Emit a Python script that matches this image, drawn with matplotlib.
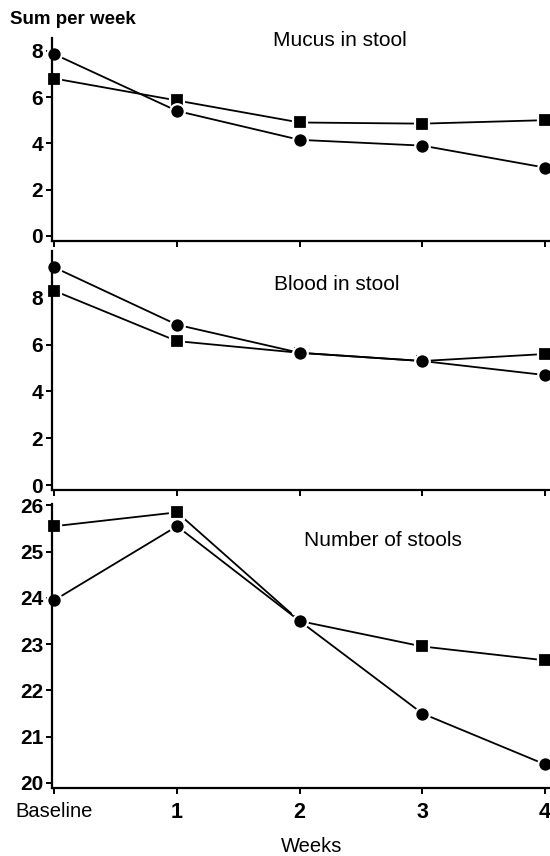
import matplotlib
matplotlib.use("Agg")
import matplotlib.pyplot as plt

plt.rcParams['font.family'] = ['Liberation Sans', 'DejaVu Sans']

weeks = [0, 1, 2, 3, 4]
week_labels = ['Baseline', '1', '2', '3', '4']

mucus_circle = [7.85, 5.4, 4.15, 3.9, 2.95]
mucus_square = [6.8, 5.85, 4.9, 4.85, 5.0]

blood_circle = [9.3, 6.85, 5.65, 5.3, 4.7]
blood_square = [8.3, 6.15, 5.65, 5.3, 5.6]

stools_circle = [23.95, 25.55, 23.5, 21.5, 20.4]
stools_square = [25.55, 25.85, 23.5, 22.95, 22.65]

W, H = 550, 856
fig = plt.figure(figsize=(W / 100, H / 100), dpi=100)


def px_axes(top, bottom, left=51.5, right=550):
    return fig.add_axes([left / W, 1 - bottom / H, (right - left) / W, (bottom - top) / H])


panels = [
    (38, 241, (-0.22, 8.55), [0, 2, 4, 6, 8], mucus_circle, mucus_square,
     'Mucus in stool', 340, 41),
    (251, 490, (-0.21, 10.0), [0, 2, 4, 6, 8], blood_circle, blood_square,
     'Blood in stool', 337, 285),
    (504, 788, (19.89, 26.03), [20, 21, 22, 23, 24, 25, 26], stools_circle, stools_square,
     'Number of stools', 383, 541),
]

axes = []
for top, bottom, ylim, yticks, circ, sq, title, tx, ty in panels:
    ax = px_axes(top, bottom)
    ax.plot(weeks, sq, color='black', lw=1.3, marker='s', ms=9.5, mfc='black',
            mec='white', mew=1.6, clip_on=False)
    ax.plot(weeks, circ, color='black', lw=1.3, marker='o', ms=10.5, mfc='black',
            mec='white', mew=1.6, clip_on=False)
    ax.set_xlim(-0.023, 4.04)
    ax.set_ylim(*ylim)
    ax.set_yticks(yticks)
    ax.set_xticks(weeks)
    ax.spines['top'].set_visible(False)
    ax.spines['right'].set_visible(False)
    ax.spines['left'].set_linewidth(1.6)
    ax.spines['bottom'].set_linewidth(1.6)
    ax.tick_params(axis='both', direction='out', length=4, width=1.4, pad=2)
    ax.tick_params(axis='y', labelsize=15)
    for lab in ax.get_yticklabels():
        lab.set_fontweight('bold')
    ax.set_xticklabels([])
    fig.text(tx / W, 1 - ty / H, title, fontsize=15, ha='center', va='center')
    axes.append(ax)

ax = axes[-1]
ax.set_xticklabels(week_labels, fontsize=14.5)
for lab in ax.get_xticklabels()[1:]:
    lab.set_fontweight('bold')
    lab.set_fontsize(15.5)
ax.tick_params(axis='x', pad=6)

fig.text(10 / W, 1 - 20 / H, 'Sum per week', fontsize=13.5, fontweight='bold',
         ha='left', va='center')
fig.text(312 / W, 1 - 847 / H, 'Weeks', fontsize=14.5, ha='center', va='center')

fig.savefig('out.png', dpi=100)
